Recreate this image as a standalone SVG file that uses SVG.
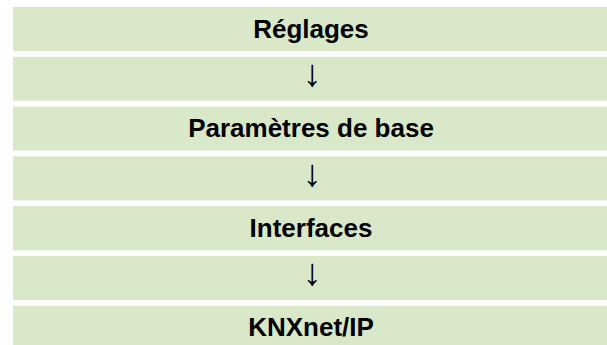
<svg xmlns="http://www.w3.org/2000/svg" width="607" height="345" viewBox="0 0 607 345">
<style>
.box{fill:#d9e8c9}
.t{font-family:"Liberation Sans",Arial,sans-serif;font-weight:bold;font-size:26px;fill:#000;text-anchor:middle}
.a{font-family:"Liberation Sans",Arial,sans-serif;font-weight:bold;font-size:38px;fill:#000;text-anchor:middle}
</style>
<rect width="607" height="345" fill="#fff"/>
<g id="n1"><rect class="box" x="13" y="7" width="594" height="44"/><text class="t" x="311" y="38">Réglages</text></g>
<g id="connectors">
<g id="c1"><rect class="box" x="13" y="56.8" width="594" height="44"/><text class="a" x="312" y="86">↓</text></g>
<g id="c2"><rect class="box" x="13" y="156.4" width="594" height="44"/><text class="a" x="312" y="185.6">↓</text></g>
<g id="c3"><rect class="box" x="13" y="256" width="594" height="44"/><text class="a" x="312" y="285.2">↓</text></g>
</g>
<g id="n2"><rect class="box" x="13" y="106.6" width="594" height="44"/><text class="t" x="311" y="137">Paramètres de base</text></g>
<g id="n3"><rect class="box" x="13" y="206.2" width="594" height="44"/><text class="t" x="311" y="236.6">Interfaces</text></g>
<g id="n4"><rect class="box" x="13" y="305.8" width="594" height="44"/><text class="t" x="311" y="336">KNXnet/IP</text></g>
</svg>
